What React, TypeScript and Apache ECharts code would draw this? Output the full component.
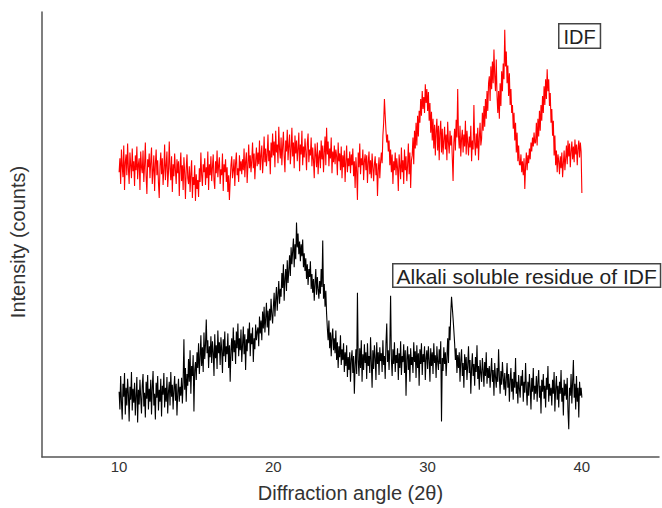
import React, { useEffect, useRef } from "react";
import * as echarts from "echarts";

const xStart = 10;
const xStep = 0.05;
const xTickLabels = [10, 20, 30, 40];

// IDF (red), 10.00 .. 40.00 step 0.05 (one row = 0.5°)
const idfCounts = [
  2880, 3020, 2760, 3110, 2940, 2830, 3150, 2700, 2980, 3060,
  2850, 3170, 2920, 2760, 3080, 2950, 2820, 3120, 2890, 2990,
  2740, 3050, 2900, 3140, 2810, 2960, 3020, 2700, 3090, 2930,
  2870, 3100, 2780, 2950, 3180, 2840, 2660, 3010, 2930, 3070,
  2820, 2990, 3130, 2760, 2900, 3050, 2690, 2960, 3110, 2850,
  3000, 2770, 2620, 2940, 3080, 2860, 3020, 2750, 2910, 3160,
  2800, 2950, 3090, 2730, 2880, 3190, 2920, 2800, 3040, 2680,
  2960, 2840, 3070, 2900, 2760, 3010, 2870, 2990, 2640, 2930,
  3080, 2790, 2950, 2700, 3030, 2880, 2610, 2920, 3060, 2820,
  2760, 2940, 2680, 2870, 3000, 2620, 2830, 2750, 2950, 2590,
  2860, 2710, 2800, 2630, 2920, 2780, 3080, 2850, 2740, 2960,
  2880, 3020, 2750, 2930, 2820, 3090, 2700, 2960, 2850, 3040,
  2790, 2930, 3060, 2800, 2710, 2990, 2870, 3100, 2830, 2950,
  3030, 2760, 2910, 2850, 3070, 2690, 2960, 2880, 3010, 2780,
  2930, 2680, 2850, 2600, 2790, 2950, 3040, 2820, 2900, 3010,
  2740, 2970, 3080, 2850, 2920, 2780, 3050, 2890, 2990, 2860,
  3010, 2900, 3120, 2830, 2990, 3080, 2770, 2950, 3160, 2920,
  3050, 2880, 3000, 3180, 2920, 3070, 2810, 2990, 3130, 2940,
  3080, 2960, 3200, 2900, 3050, 3150, 2870, 3010, 3240, 2980,
  3120, 2940, 3060, 3260, 2990, 3100, 2860, 3180, 3030, 3270,
  3050, 3190, 2930, 3300, 3080, 3160, 2970, 3340, 3110, 3020,
  3230, 2950, 3140, 3290, 3040, 2880, 3200, 3090, 3310, 3000,
  3150, 3260, 2960, 3100, 3330, 3040, 3180, 2920, 3250, 3070,
  3200, 2990, 3120, 3280, 2890, 3160, 3060, 3300, 2950, 3140,
  3030, 3220, 3090, 2900, 3170, 3270, 2980, 3110, 3050, 3230,
  2940, 3130, 3000, 2820, 3170, 3060, 2930, 3180, 2860, 3040,
  3100, 2920, 3200, 3010, 3150, 2880, 3080, 3240, 2950, 3330,
  3060, 3190, 2940, 3120, 3020, 3230, 2870, 3090, 2980, 3150,
  2960, 3110, 3040, 2850, 3180, 2990, 3070, 2900, 3140, 2820,
  3050, 2930, 3100, 2780, 2990, 3150, 2880, 3020, 2940, 3090,
  2870, 3060, 2950, 3120, 2840, 2990, 2720, 3030, 2890, 2600,
  3080, 2930, 3170, 2860, 3020, 2950, 3110, 2800, 2990, 3060,
  2900, 3050, 2770, 2980, 3090, 2860, 3000, 2820, 3070, 2930,
  2790, 2960, 3040, 2850, 2970, 2640, 2900, 3030, 2820, 2980,
  3080, 2970, 3250, 3380, 3620, 3450, 3300, 3180, 3260, 3090,
  3200, 2950, 3110, 2880, 3060, 2760, 2990, 2900, 3080, 2850,
  3020, 2920, 2690, 3060, 2950, 2810, 3130, 2880, 3000, 2760,
  3110, 2900, 3040, 2790, 2950, 3170, 2860, 3080, 2720, 3000,
  3050, 3230, 2960, 3300, 3120, 3380, 3150, 3450, 3240, 3500,
  3380, 3620, 3450, 3700, 3520, 3640, 3480, 3770, 3580, 3720,
  3500, 3690, 3400, 3580, 3280, 3490, 3200, 3420, 3120, 3360,
  3050, 3300, 3420, 3100, 3350, 3000, 3280, 3400, 3080, 3320,
  3060, 3200, 3340, 3110, 3260, 3000, 3390, 3180, 3070, 3300,
  3150, 3250, 3020, 2790, 3180, 3320, 3100, 3410, 3230, 3720,
  3250, 3120, 3350, 3040, 3220, 3310, 3080, 3260, 3140, 3400,
  3060, 3300, 3180, 3050, 3240, 3130, 3350, 2990, 3200, 3110,
  3560, 3180, 3050, 3270, 3120, 3330, 3000, 3220, 3380, 3150,
  3220, 3480, 3300, 3550, 3340, 3620, 3420, 3700, 3500, 3780,
  3850, 3600, 3950, 3720, 4000, 3780, 4120, 3850, 3700, 4020,
  3650, 3480, 3700, 3420, 3780, 3550, 3900, 3700, 3980, 3820,
  4320, 3950, 4100, 3780, 3960, 3650, 3880, 3560, 3720, 3480,
  3560, 3320, 3480, 3200, 3380, 3080, 3280, 2990, 3150, 2960,
  2950, 3060, 2880, 2990, 2850, 3020, 2710, 2940, 3080, 2900,
  3050, 2970, 3120, 3010, 3180, 3090, 3230, 3140, 3280, 3170,
  3180, 3380, 3150, 3420, 3240, 3500, 3300, 3560, 3400, 3650,
  3480, 3750, 3560, 3820, 3620, 3920, 3700, 3820, 3550, 3680,
  3380, 3520, 3250, 3400, 3050, 3250, 2950, 3100, 2880, 3060,
  2990, 2860, 3040, 2920, 3080, 2830, 2970, 3100, 2900, 3020,
  3150, 2960, 3200, 3040, 3170, 2930, 3090, 3190, 3010, 3140,
  2980, 3210, 3060, 3160, 2950, 3120, 3200, 3030, 3180, 3090,
  2670,
];

// Alkali soluble residue of IDF (black), 10.00 .. 40.00 step 0.05
const residueCounts = [
  660, 480, 820, 560, 380, 740, 610, 850, 430, 700,
  520, 790, 640, 360, 710, 580, 860, 470, 690, 550,
  750, 420, 620, 810, 350, 680, 530, 780, 600, 440,
  720, 840, 510, 650, 400, 760, 590, 830, 480, 690,
  560, 780, 430, 700, 870, 520, 640, 380, 750, 600,
  820, 470, 680, 560, 790, 410, 720, 630, 850, 500,
  700, 560, 810, 440, 660, 760, 520, 860, 610, 730,
  480, 690, 820, 570, 740, 420, 650, 790, 560, 710,
  620, 800, 540, 760, 1190, 680, 900, 560, 840, 720,
  990, 760, 1080, 640, 920, 820, 1030, 460, 880, 960,
  780, 1060, 900, 1150, 840, 1000, 1230, 920, 1110, 860,
  1260, 990, 1140, 1390, 1050, 1180, 900, 1120, 1010, 1220,
  950, 1170, 1060, 820, 1240, 1000, 1130, 890, 1280, 1050,
  1160, 930, 1210, 1080, 850, 1190, 1020, 1270, 960, 1120,
  1040, 1250, 900, 1130, 760, 1080, 1200, 970, 1310, 1060,
  1180, 940, 1270, 1100, 1350, 1020, 1200, 1080, 1290, 960,
  1130, 1320, 1040, 1240, 880, 1190, 1070, 1300, 1150, 1360,
  1020, 1250, 1140, 1310, 960, 1200, 1090, 1340, 1180, 1270,
  1310, 1120, 1420, 1250, 1380, 1180, 1470, 1300, 1520, 1260,
  1400, 1560, 1310, 1480, 1230, 1500, 1380, 1600, 1440, 1350,
  1520, 1660, 1420, 1590, 1720, 1480, 1640, 1780, 1550, 1700,
  1620, 1860, 1710, 1950, 1580, 1800, 1900, 1680, 1990, 1760,
  1880, 2040, 1830, 2120, 1950, 2080, 2210, 1920, 2150, 2000,
  2370, 2120, 2260, 2050, 2180, 1980, 2150, 2030, 2200, 1920,
  2060, 1880, 2010, 1800, 1950, 1740, 1900, 1820, 1980, 1700,
  1850, 1660, 1800, 1580, 1760, 1900, 1640, 1820, 1700, 1600,
  1780, 1650, 1900, 1720, 2190, 1600, 1750, 1520, 1680, 1450,
  1300, 1180, 1380, 1100, 1260, 1020, 1220, 1300, 1080, 1200,
  1050, 1280, 980, 1160, 900, 1120, 1010, 1230, 930, 1090,
  980, 1150, 860, 1060, 920, 1130, 810, 1010, 880, 1060,
  760, 990, 1080, 850, 1020, 640, 930, 1090, 840, 1660,
  980, 820, 1100, 900, 1180, 760, 1040, 880, 1140, 950,
  1060, 790, 1150, 920, 1020, 850, 1210, 960, 700, 1080,
  890, 1130, 1000, 780, 1160, 940, 1060, 830, 1110, 970,
  1050, 860, 1180, 930, 1020, 790, 1150, 1350, 960, 1080,
  880, 1120, 1630, 990, 820, 1090, 940, 1160, 860, 1030,
  950, 1100, 780, 1050, 900, 1170, 830, 1020, 960, 1140,
  850, 1080, 620, 990, 1120, 880, 1040, 760, 1100, 930,
  1010, 850, 1160, 960, 1070, 800, 1130, 900, 1050, 720,
  1090, 940, 1150, 830, 1040, 960, 1120, 780, 1000, 1080,
  890, 1120, 980, 760, 1100, 920, 1060, 840, 1150, 950,
  1030, 800, 1120, 960, 880, 1090, 940, 1170, 360, 1000,
  870, 1110, 940, 1060, 820, 1000, 1200, 950, 1320, 1180,
  1450, 1620, 1510, 1400, 1280, 1150, 980, 1100, 850, 1030,
  900, 1060, 760, 980, 1090, 820, 950, 700, 1040, 880,
  1010, 780, 930, 1120, 850, 980, 640, 900, 1050, 820,
  940, 720, 1010, 860, 1130, 790, 920, 680, 980, 850,
  760, 1000, 880, 710, 960, 820, 1060, 740, 900, 800,
  920, 700, 860, 1000, 760, 880, 620, 950, 810, 700,
  900, 760, 1090, 820, 640, 870, 730, 960, 800, 680,
  850, 620, 780, 950, 700, 840, 560, 780, 900, 660,
  790, 580, 860, 700, 1000, 640, 760, 540, 830, 690,
  600, 820, 720, 880, 560, 760, 650, 950, 700, 520,
  760, 620, 840, 700, 480, 800, 660, 900, 580, 720,
  640, 820, 560, 760, 880, 600, 720, 440, 780, 660,
  840, 590, 720, 500, 800, 680, 920, 560, 740, 620,
  700, 520, 780, 640, 860, 460, 690, 820, 580, 720,
  500, 760, 640, 880, 560, 700, 420, 780, 620, 740,
  580, 800, 460, 280, 700, 620, 840, 540, 760, 980,
  600, 740, 480, 820, 560, 700, 400, 760, 620, 700,
  600,
];

const toPairs = (vals: number[]) =>
  vals.map((v, i) => [Math.round((xStart + i * xStep) * 100) / 100, v]);

const FONT = "'Liberation Sans', Arial, sans-serif";

export default function App() {
  const ref = useRef<HTMLDivElement>(null);
  useEffect(() => {
    document.body.style.margin = "0";
    if (!ref.current) return;
    const chart = echarts.init(ref.current, null, { renderer: "svg" });
    chart.setOption({
      animation: false,
      backgroundColor: "#ffffff",
      grid: { left: 42, right: 0, top: 12, bottom: 49, containLabel: false },
      xAxis: {
        type: "value",
        min: 5,
        max: 45,
        interval: 5,
        name: "Diffraction angle (2θ)",
        nameLocation: "middle",
        nameGap: 26,
        nameTextStyle: { fontFamily: FONT, fontSize: 20, color: "#333" },
        axisLine: { show: true, lineStyle: { color: "#555", width: 1.5 } },
        axisTick: { show: false },
        splitLine: { show: false },
        axisLabel: {
          margin: 2,
          fontFamily: FONT,
          fontSize: 15,
          color: "#333",
          formatter: (v: number) => (xTickLabels.includes(v) ? String(v) : ""),
        },
      },
      yAxis: {
        type: "value",
        min: 0,
        max: 4500,
        axisLine: { show: true, lineStyle: { color: "#555", width: 1.5 } },
        axisTick: { show: false },
        axisLabel: { show: false },
        splitLine: { show: false },
      },
      series: [
        {
          name: "IDF",
          type: "line",
          data: toPairs(idfCounts),
          showSymbol: false,
          lineStyle: { color: "#ff0000", width: 1.1 },
          itemStyle: { color: "#ff0000" },
        },
        {
          name: "Alkali soluble residue of IDF",
          type: "line",
          data: toPairs(residueCounts),
          showSymbol: false,
          lineStyle: { color: "#000000", width: 1.1 },
          itemStyle: { color: "#000000" },
        },
      ],
      graphic: [
        {
          type: "text",
          x: 18,
          y: 242,
          rotation: Math.PI / 2,
          style: {
            text: "Intensity (counts)",
            font: `20px ${FONT}`,
            fill: "#333",
            align: "center",
            verticalAlign: "middle",
          },
        },
        {
          type: "text",
          left: 558,
          top: 23,
          style: {
            text: "IDF",
            font: `20px ${FONT}`,
            fill: "#222",
            borderColor: "#444",
            borderWidth: 1.5,
            padding: [2, 4, 1, 4],
            backgroundColor: "#fff",
          },
        },
        {
          type: "text",
          left: 392,
          top: 263,
          style: {
            text: "Alkali soluble residue of IDF",
            font: `21px ${FONT}`,
            fill: "#222",
            borderColor: "#444",
            borderWidth: 1.5,
            padding: [1, 3, 0, 3],
            backgroundColor: "#fff",
          },
        },
      ],
    });
    return () => chart.dispose();
  }, []);
  return <div ref={ref} style={{ width: 662, height: 508 }} />;
}
